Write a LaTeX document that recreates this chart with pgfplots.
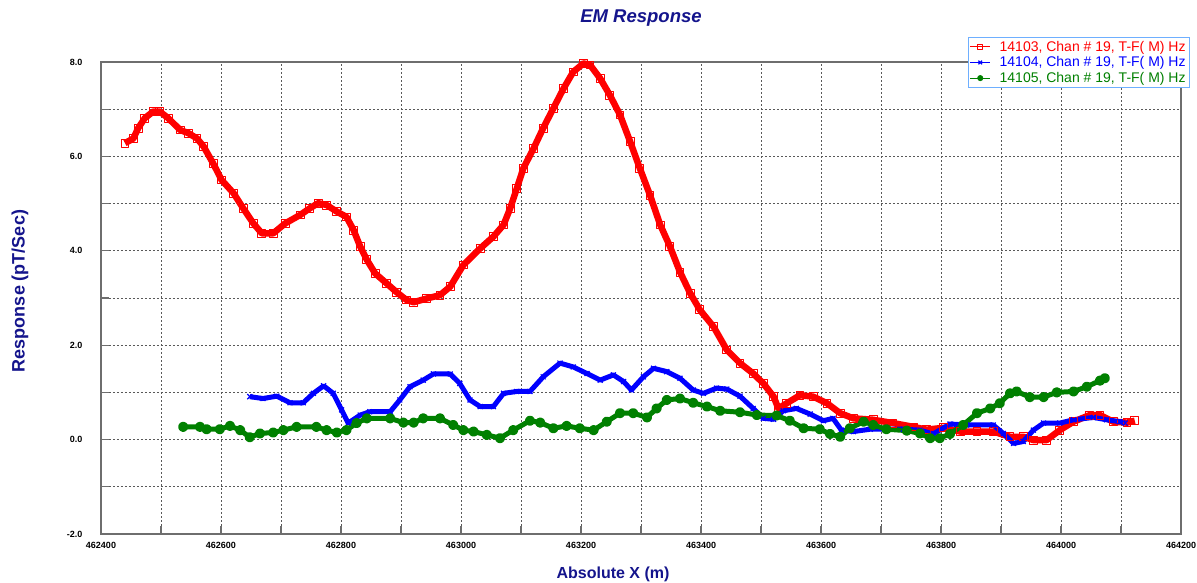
\documentclass[border=0pt]{standalone}
\usepackage{fontspec}
\setmainfont{Liberation Sans}
\usepackage{pgfplots}
\pgfplotsset{compat=1.18}
\definecolor{navy}{RGB}{20,20,140}
\definecolor{dgreen}{RGB}{0,128,0}
\definecolor{legblue}{RGB}{110,175,255}
\definecolor{framegray}{RGB}{110,110,110}

\pgfplotstableread{
x y
462440 6.28
462454 6.38
462462 6.60
462473 6.81
462487 6.95
462498 6.95
462512 6.81
462532 6.56
462546 6.49
462560 6.38
462571 6.21
462587 5.85
462601 5.50
462621 5.22
462637 4.90
462654 4.58
462668 4.37
462687 4.37
462707 4.58
462732 4.76
462748 4.90
462762 5.01
462776 4.97
462793 4.83
462809 4.72
462821 4.44
462832 4.09
462843 3.81
462857 3.52
462876 3.31
462893 3.12
462909 2.96
462921 2.91
462943 2.99
462965 3.06
462982 3.24
463004 3.70
463032 4.05
463054 4.30
463071 4.55
463082 4.90
463093 5.32
463104 5.75
463121 6.17
463137 6.60
463154 7.02
463171 7.44
463187 7.79
463204 7.97
463215 7.94
463232 7.65
463248 7.30
463265 6.88
463282 6.31
463298 5.75
463315 5.18
463332 4.55
463348 4.10
463365 3.55
463382 3.10
463398 2.75
463421 2.39
463443 1.90
463465 1.62
463487 1.40
463504 1.19
463521 0.91
463529 0.66
463543 0.77
463565 0.94
463587 0.91
463610 0.77
463632 0.56
463654 0.45
463687 0.42
463720 0.35
463754 0.27
463776 0.21
463804 0.25
463832 0.17
463860 0.17
463887 0.17
463915 0.06
463937 0.06
463954 -0.01
463976 -0.01
463998 0.20
464021 0.38
464048 0.52
464065 0.52
464087 0.38
464110 0.36
464123 0.40
}\redtable

\pgfplotstableread{
x y
462648 0.91
462670 0.87
462693 0.92
462715 0.78
462737 0.78
462754 0.98
462771 1.14
462787 0.98
462801 0.63
462812 0.35
462832 0.52
462848 0.59
462882 0.59
462898 0.84
462915 1.12
462937 1.26
462954 1.39
462982 1.39
462998 1.19
463015 0.84
463032 0.70
463054 0.70
463071 0.98
463093 1.02
463115 1.02
463137 1.33
463165 1.62
463187 1.54
463210 1.40
463232 1.26
463254 1.37
463271 1.23
463284 1.05
463304 1.33
463321 1.51
463343 1.44
463365 1.30
463387 1.05
463404 0.98
463426 1.09
463443 1.07
463465 0.92
463487 0.66
463504 0.45
463521 0.43
463537 0.61
463559 0.66
463582 0.54
463604 0.40
463620 0.45
463634 0.20
463654 0.17
463682 0.22
463709 0.22
463737 0.22
463765 0.20
463787 0.12
463815 0.33
463843 0.31
463887 0.31
463904 0.13
463921 -0.08
463937 -0.04
463954 0.20
463971 0.35
463998 0.35
464021 0.42
464054 0.47
464076 0.42
464098 0.38
464107 0.35
}\bluetable

\pgfplotstableread{
x y
462537 0.27
462565 0.27
462576 0.22
462598 0.22
462615 0.29
462632 0.20
462648 0.05
462665 0.13
462687 0.15
462704 0.20
462726 0.27
462759 0.27
462776 0.20
462793 0.15
462809 0.20
462826 0.35
462843 0.45
462882 0.45
462904 0.36
462921 0.36
462937 0.45
462965 0.45
462987 0.31
463004 0.20
463021 0.17
463043 0.10
463065 0.03
463087 0.20
463115 0.40
463132 0.36
463154 0.24
463176 0.29
463198 0.24
463221 0.20
463243 0.38
463265 0.56
463287 0.56
463310 0.47
463326 0.66
463343 0.84
463365 0.87
463387 0.78
463410 0.70
463432 0.61
463465 0.58
463493 0.52
463526 0.51
463548 0.40
463571 0.24
463598 0.22
463615 0.12
463632 0.06
463648 0.24
463671 0.38
463687 0.31
463709 0.22
463743 0.19
463765 0.13
463782 0.03
463798 0.03
463815 0.12
463837 0.31
463860 0.56
463882 0.66
463898 0.77
463915 0.98
463926 1.02
463948 0.90
463971 0.90
463993 1.00
464021 1.02
464043 1.12
464065 1.25
464073 1.30
}\greentable

\begin{document}
\begin{tikzpicture}[x=1pt,y=1pt]
\useasboundingbox (-101,-49) rectangle (1096,534);
\begin{axis}[
  at={(0,0)}, anchor=south west,
  scale only axis, width=1080pt, height=472pt,
  xmin=462400, xmax=464200, ymin=-2, ymax=8,
  xtick={462400,462600,...,464200},
  minor xtick={462500,462700,...,464100},
  ytick={-2,0,...,8},
  minor ytick={-1,1,...,7},
  grid=both,
  major grid style={dash pattern=on 1.6pt off 2.4pt, color=black!65, line width=0.9pt},
  minor grid style={dash pattern=on 1.6pt off 2.4pt, color=black!65, line width=0.9pt},
  tick pos=left, tick align=inside,
  major tick length=8pt, minor tick length=8pt,
  every tick/.style={framegray, line width=1.2pt},
  axis line style={framegray, line width=1.3pt},
  scaled x ticks=false,
  /pgf/number format/assume math mode=true,
  xticklabels={462400,462600,462800,463000,463200,463400,463600,463800,464000,464200},
  yticklabels={-2.0,0.0,2.0,4.0,6.0,8.0},
  xticklabel style={font=\bfseries\fontsize{9}{10}\selectfont, yshift=-5pt},
  yticklabel style={font=\bfseries\fontsize{9}{10}\selectfont, xshift=-15pt},
  clip=false,
  legend style={at={(1.008,1.053)}, anchor=north east, draw=legblue, line width=1pt,
    fill=white, font=\fontsize{14}{14}\selectfont, inner sep=1.5pt,
    row sep=0pt, cells={anchor=west},
    /tikz/every odd column/.append style={column sep=7pt}},
  legend cell align=left,
  legend image code/.code={
    \draw[mark repeat=2,mark phase=2,#1,line width=0.8pt,mark size=2.6pt]
      plot coordinates {(0pt,0pt) (10pt,0pt) (20pt,0pt)};
  },
]
\addplot[red, line width=6.5pt, line join=round, mark=square, mark size=3.9pt,
  mark options={solid, draw=red, fill=red!15, line width=0.8pt}]
  table[x=x,y=y] {\redtable};
\addlegendentry{\textcolor{red}{14103, Chan \# 19, T-F( M) Hz}}
\addplot[blue, line width=5pt, line join=round, mark=x, mark size=3.5pt,
  mark options={solid, draw=blue, line width=1.2pt}]
  table[x=x,y=y] {\bluetable};
\addlegendentry{\textcolor{blue}{14104, Chan \# 19, T-F( M) Hz}}
\addplot[dgreen, line width=5pt, line join=round, mark=*, mark size=2.6pt,
  mark options={solid, draw=dgreen, fill=dgreen}]
  table[x=x,y=y] {\greentable};
\addlegendentry{\textcolor{dgreen}{14105, Chan \# 19, T-F( M) Hz}}
\end{axis}
\node[font=\bfseries\itshape\fontsize{18.5}{20}\selectfont, text=navy] at (540,516) {EM Response};
\node[font=\bfseries\fontsize{18}{20}\selectfont, text=navy, rotate=90] at (-81,243) {Response (pT/Sec)};
\node[font=\bfseries\fontsize{16}{18}\selectfont, text=navy] at (512,-40) {Absolute X (m)};
\end{tikzpicture}
\end{document}
